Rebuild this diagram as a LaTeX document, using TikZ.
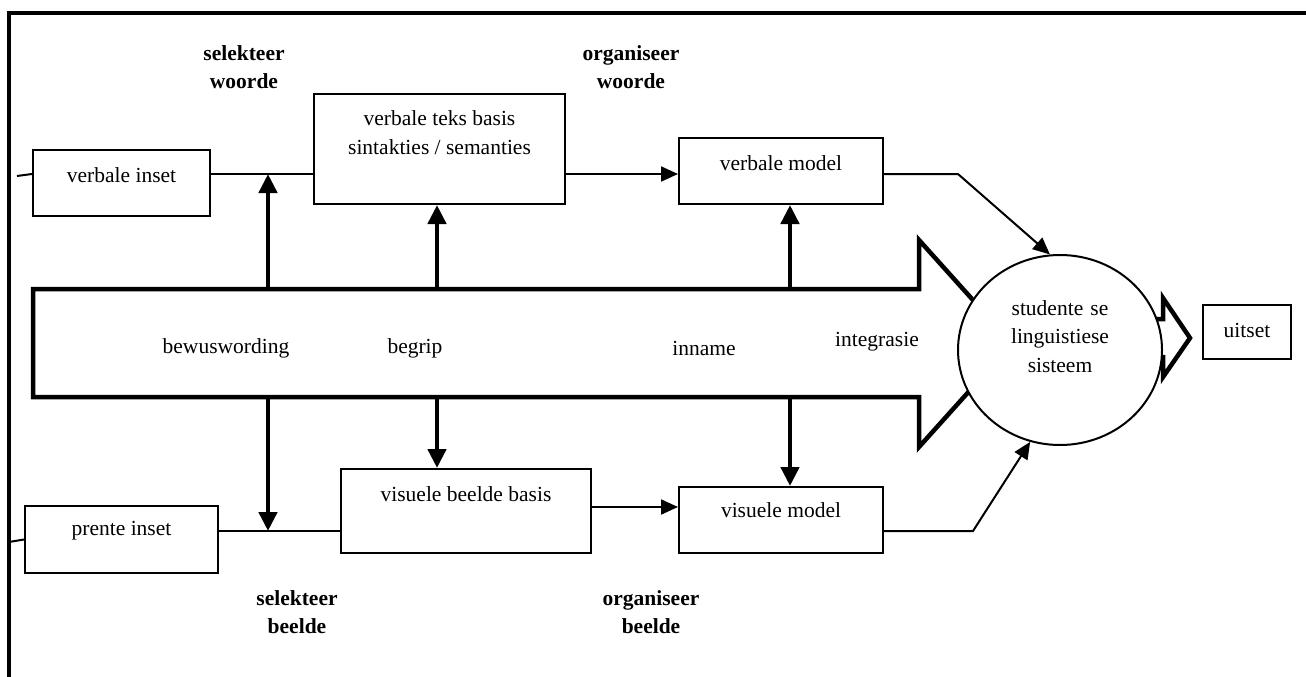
\documentclass[tikz,border=0pt]{standalone}
\usepackage{fontspec}
\setmainfont{Liberation Serif}
\usetikzlibrary{arrows.meta,shapes.geometric}
\begin{document}
\begin{tikzpicture}[x=1pt,y=-1pt,
  font=\fontsize{21.5}{28}\selectfont,
  box/.style={draw,line width=2pt,inner sep=0pt,fill=white},
  txt/.style={inner sep=0pt,align=center},
  bold/.style={txt,font=\fontsize{21.5}{28}\selectfont\bfseries},
  thin/.style={line width=2pt},
  flow/.style={line width=2pt,-{Triangle[length=17pt,width=15pt]}},
  feed/.style={line width=4.5pt,-{Triangle[length=19pt,width=18pt]}},
  hollow/.style={line width=4.5pt,line join=miter,fill=white},
  frame/.style={line width=4pt}]
\useasboundingbox (0,0) rectangle (1306,677);

% outer frame (left and top edges)
\draw[frame] (9,677) -- (9,13) -- (1306,13);

% reference rows and columns
\coordinate (toprow) at (0,174);
\coordinate (midrow) at (0,507);
\coordinate (botrow) at (0,531);
\coordinate (bodyTop) at (0,289);
\coordinate (bodyBot) at (0,397);
\coordinate (colA) at (268,0);
\coordinate (colB) at (437,0);
\coordinate (colC) at (790,0);
\coordinate (vinstub) at (17,176);
\coordinate (pinstub) at (9,542);
\coordinate (vbend) at (958,174);
\coordinate (pbend) at (973,531);

% broad hollow process arrow
\draw[hollow] (33,289) -- (919,289) -- (919,240) -- (1012,343.5)
  -- (919,447) -- (919,397) -- (33,397) -- cycle;
% small hollow output arrow
\draw[hollow] (1140,319) -- (1163,319) -- (1163,298) -- (1190,338)
  -- (1163,377) -- (1163,357) -- (1140,357) -- cycle;

% learner's system
\node[draw,ellipse,line width=2pt,fill=white,inner sep=0pt,
  minimum width=204pt,minimum height=190pt] (sys) at (1060,350) {};
\node[txt,text width=200pt] (syst) at (1060,336.5)
  {studente se\\[0.5pt]linguistiese\\[0.5pt]sisteem};

% boxes
\node[box,minimum width=177pt,minimum height=66pt] (vin) at (121.5,183) {};
\node[box,minimum width=251pt,minimum height=110pt] (vtb) at (439.5,149) {};
\node[box,minimum width=204pt,minimum height=66pt] (vm) at (781,171) {};
\node[box,minimum width=193pt,minimum height=67pt] (pin) at (121.5,539.5) {};
\node[box,minimum width=250pt,minimum height=84pt] (vbb) at (466,511) {};
\node[box,minimum width=204pt,minimum height=66pt] (vism) at (781,520) {};
\node[box,minimum width=88pt,minimum height=54pt] (uit) at (1247,332) {};

% box texts
\node[txt] (vint) at (121.5,175) {verbale inset};
\node[txt] (vtbt) at (439.5,132.5) {verbale teks basis\\[1pt]sintakties / semanties};
\node[txt] (vmt) at (781,163) {verbale model};
\node[txt] (pint) at (121.5,531) {prente inset};
\node[txt] (vbbt) at (466,494) {visuele beelde basis};
\node[txt] (vismt) at (781,510) {visuele model};
\node[txt] (uitt) at (1247,330) {uitset};

% stage names inside the broad arrow
\node[txt] (st1) at (226,348) {bewuswording};
\node[txt] (st2) at (415,348) {begrip};
\node[txt] (st3) at (704,348) {inname};
\node[txt] (st4) at (877,342) {integrasie};

% process labels
\node[bold] (sw) at (244,67) {selekteer\\woorde};
\node[bold] (ow) at (631,67) {organiseer\\woorde};
\node[bold] (sb) at (297,612) {selekteer\\beelde};
\node[bold] (ob) at (651,612) {organiseer\\beelde};

% verbal channel
\draw[thin] (vinstub) -- (vin.west |- toprow);
\draw[thin] (vin.east |- toprow) -- (vtb.west |- toprow);
\draw[flow] (vtb.east |- toprow) -- (vm.west |- toprow);
\draw[flow] (vm.east |- toprow) -- (vbend) -- (sys.96);

% pictorial channel
\draw[thin] (pinstub) -- (pin.west);
\draw[thin] (pin.east |- botrow) -- (vbb.west |- botrow);
\draw[flow] (vbb.east |- midrow) -- (vism.west |- midrow);
\draw[flow] (vism.east |- botrow) -- (pbend) -- (sys.252);

% arrows leaving the broad arrow
\draw[feed] (colA |- bodyTop) -- (colA |- toprow);
\draw[feed] (colB |- bodyTop) -- (colB |- vtb.south);
\draw[feed] (colC |- bodyTop) -- (colC |- vm.south);
\draw[feed] (colA |- bodyBot) -- (colA |- botrow);
\draw[feed] (colB |- bodyBot) -- (colB |- vbb.north);
\draw[feed] (colC |- bodyBot) -- (colC |- vism.north);
\end{tikzpicture}
\end{document}
